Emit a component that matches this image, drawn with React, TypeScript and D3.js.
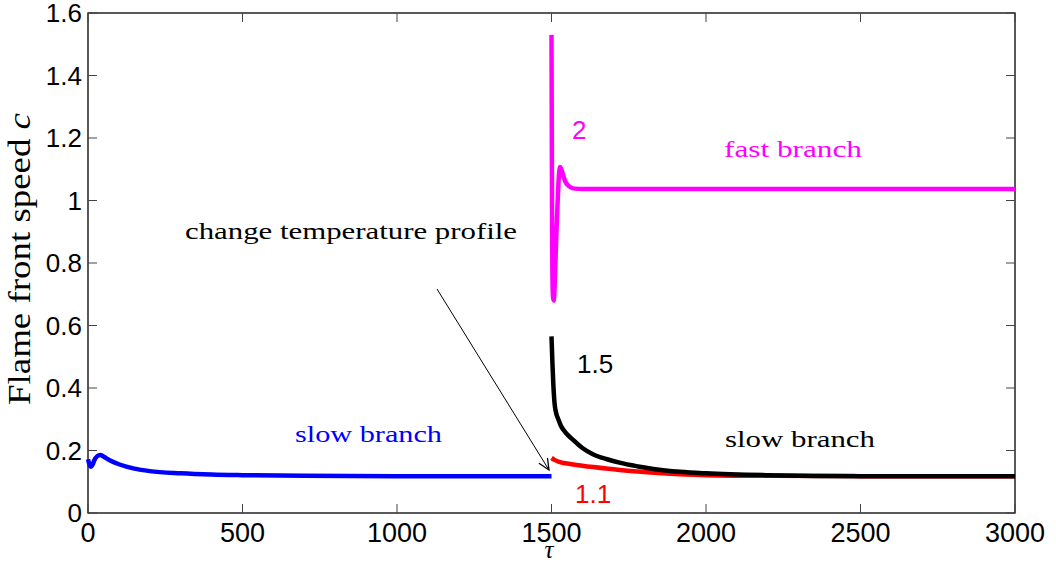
import React from "react";
import * as d3 from "d3";

const xTicks = [0, 500, 1000, 1500, 2000, 2500, 3000];
const yTicks = [0, 0.2, 0.4, 0.6, 0.8, 1, 1.2, 1.4, 1.6];

const blueTau = [0, 5, 10, 15, 20, 30, 40, 50, 70, 100, 150, 200, 300, 400, 500, 700, 1000, 1500];
const blueC = [0.172, 0.155, 0.148, 0.155, 0.168, 0.182, 0.186, 0.181, 0.169, 0.156, 0.142, 0.134, 0.127, 0.123, 0.121, 0.119, 0.118, 0.118];

const redTau = [1500, 1510, 1530, 1560, 1600, 1700, 1800, 1900, 2000, 2200, 2500, 3000];
const redC = [0.176, 0.17, 0.162, 0.157, 0.151, 0.14, 0.131, 0.125, 0.121, 0.119, 0.118, 0.118];

const blackTau = [1500, 1503, 1506, 1510, 1515, 1522, 1530, 1545, 1570, 1600, 1634, 1680, 1720, 1780, 1830, 1916, 2000, 2200, 2500, 3000];
const blackC = [0.565, 0.48, 0.41, 0.35, 0.32, 0.3, 0.28, 0.258, 0.234, 0.208, 0.188, 0.172, 0.161, 0.149, 0.141, 0.132, 0.127, 0.121, 0.118, 0.118];

const magentaTau = [1500, 1501, 1502, 1503, 1505, 1507, 1509, 1512, 1516, 1520, 1524, 1528, 1532, 1538, 1545, 1552, 1562, 1576, 1600, 3000];
const magentaC = [1.53, 1.2, 0.9, 0.76, 0.69, 0.68, 0.7, 0.78, 0.9, 1.0, 1.08, 1.107, 1.1, 1.08, 1.06, 1.05, 1.042, 1.038, 1.037, 1.037];

const W = 1056;
const H = 564;
const L = 88, R = 1015, T = 13, B = 513;

const x = d3.scaleLinear().domain([0, 3000]).range([L, R]);
const y = d3.scaleLinear().domain([0, 1.6]).range([B, T]);

const line = d3
  .line<[number, number]>()
  .x((d) => x(d[0]))
  .y((d) => y(d[1]))
  .curve(d3.curveMonotoneX);

const zip = (a: number[], b: number[]) => a.map((v, i) => [v, b[i]] as [number, number]);

const sans = "'Liberation Sans', Arial, Helvetica, sans-serif";
const serif = "'Liberation Serif', 'Times New Roman', serif";

export default function App() {
  const tickLen = 9;
  return (
    <svg width={W} height={H} style={{ position: "absolute", left: 0, top: 0, background: "#fff" }}>
      <defs>
        <marker id="arr" markerUnits="userSpaceOnUse" markerWidth={16} markerHeight={16} refX={12} refY={6} orient="auto">
          <path d="M1,1 L12,6 L1,11" fill="none" stroke="#000" strokeWidth={1.3} />
        </marker>
      </defs>
      {/* frame */}
      <rect x={L} y={T} width={R - L} height={B - T} fill="none" stroke="#000" strokeWidth={1.3} />
      {/* ticks */}
      {xTicks.map((t) => (
        <g key={"x" + t}>
          <line x1={x(t)} x2={x(t)} y1={B} y2={B - tickLen} stroke="#444" strokeWidth={1} />
          <line x1={x(t)} x2={x(t)} y1={T} y2={T + tickLen} stroke="#444" strokeWidth={1} />
          <text x={x(t)} y={542} textAnchor="middle" fontFamily={sans} fontSize={27}>
            {t}
          </text>
        </g>
      ))}
      {yTicks.map((t) => (
        <g key={"y" + t}>
          <line x1={L} x2={L + tickLen} y1={y(t)} y2={y(t)} stroke="#444" strokeWidth={1} />
          <line x1={R} x2={R - tickLen} y1={y(t)} y2={y(t)} stroke="#444" strokeWidth={1} />
          <text x={82} y={y(t)} dy="0.36em" textAnchor="end" fontFamily={sans} fontSize={26}>
            {d3.format("~g")(t)}
          </text>
        </g>
      ))}
      {/* curves */}
      <path d={line(zip(blueTau, blueC)) || ""} fill="none" stroke="#0000ff" strokeWidth={4.5} strokeLinejoin="round" />
      <path d={line(zip(redTau, redC)) || ""} fill="none" stroke="#ff0000" strokeWidth={4.5} strokeLinejoin="round" />
      <path d={line(zip(blackTau, blackC)) || ""} fill="none" stroke="#000" strokeWidth={4.5} strokeLinejoin="round" />
      <path d={line(zip(magentaTau, magentaC)) || ""} fill="none" stroke="#ff00ff" strokeWidth={4.5} strokeLinejoin="round" />
      {/* annotations */}
      <text x={185} y={239} fontFamily={serif} fontSize={24} textLength={332} lengthAdjust="spacingAndGlyphs">
        change temperature profile
      </text>
      <line x1={437} y1={289} x2={549} y2={470} stroke="#000" strokeWidth={1} markerEnd="url(#arr)" />
      <text x={295} y={442} fontFamily={serif} fontSize={24} fill="#0000ff" textLength={147} lengthAdjust="spacingAndGlyphs">
        slow branch
      </text>
      <text x={725} y={447} fontFamily={serif} fontSize={24} fill="#000" textLength={150} lengthAdjust="spacingAndGlyphs">
        slow branch
      </text>
      <text x={724} y={157} fontFamily={serif} fontSize={24} fill="#ff00ff" textLength={138} lengthAdjust="spacingAndGlyphs">
        fast branch
      </text>
      <text x={572} y={139} fontFamily={sans} fontSize={26} fill="#ff00ff">2</text>
      <text x={577} y={373} fontFamily={sans} fontSize={26} fill="#000">1.5</text>
      <text x={575} y={503} fontFamily={sans} fontSize={26} fill="#ff0000">1.1</text>
      {/* axis labels */}
      <text transform={`translate(30,${259}) rotate(-90)`} textAnchor="middle" fontFamily={serif} fontSize={31} textLength={292} lengthAdjust="spacingAndGlyphs">
        Flame front speed <tspan fontStyle="italic">c</tspan>
      </text>
      <text x={549} y={558} textAnchor="middle" fontFamily={serif} fontStyle="italic" fontSize={25}>
        τ
      </text>
    </svg>
  );
}
